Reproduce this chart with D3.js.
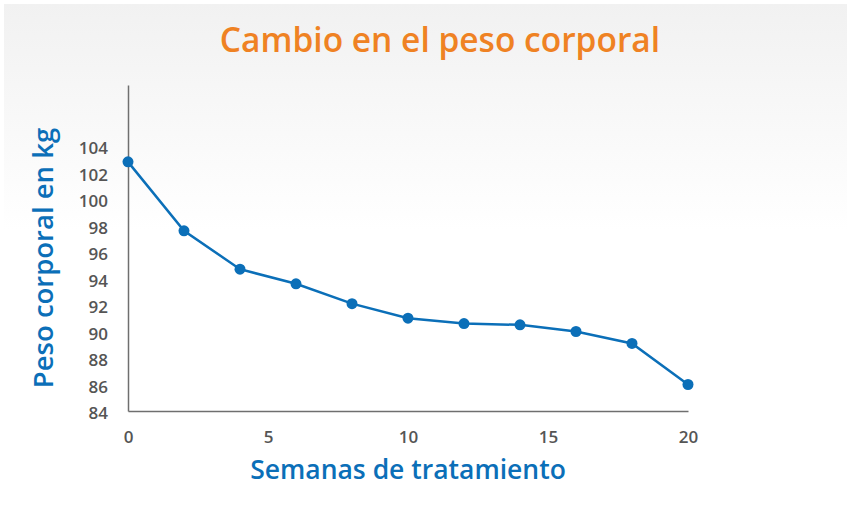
<!DOCTYPE html>
<html><head><meta charset="utf-8">
<script src="https://cdn.jsdelivr.net/npm/d3@7"></script>
<style>html,body{margin:0;padding:0;background:#fff;}svg{display:block;}</style>
</head><body>
<svg id="chart" width="847" height="505"></svg>
<script>
const weeks = [0, 2, 4, 6, 8, 10, 12, 14, 16, 18, 20];
const weights = [102.8, 97.6, 94.7, 93.6, 92.1, 91.0, 90.6, 90.5, 90.0, 89.1, 86.0];
const yTicks = [84, 86, 88, 90, 92, 94, 96, 98, 100, 102, 104];
const xTicks = [0, 5, 10, 15, 20];
const title = "Cambio en el peso corporal";
const xTitle = "Semanas de tratamiento";
const yTitle = "Peso corporal en kg";

const W = 847, H = 505;
const svg = d3.select("#chart");
const defs = svg.append("defs");
const grad = defs.append("linearGradient").attr("id","bg").attr("x1",0).attr("y1",0).attr("x2",0).attr("y2",1);
grad.append("stop").attr("offset","0%").attr("stop-color","#f1f1f1");
grad.append("stop").attr("offset","45%").attr("stop-color","#ffffff");
svg.append("rect").attr("x",4).attr("y",4).attr("width",W-4).attr("height",H-4).attr("fill","url(#bg)");

const x = d3.scaleLinear().domain([0,20]).range([128,688]);
const y = d3.scaleLinear().domain([84,108.6]).range([411,85]);

const font = "'Open Sans', sans-serif";
const blue = "#0b6fb8";

svg.append("text").attr("x",440).attr("y",52).attr("text-anchor","middle")
  .attr("font-family",font).attr("font-weight",600).attr("font-size",33.5)
  .attr("fill","#ef8223").text(title);

const xAxis = svg.append("g").attr("transform","translate(0,411)")
  .call(d3.axisBottom(x).tickValues(xTicks).tickSize(0).tickPadding(20).tickFormat(d3.format("d")));
const yAxis = svg.append("g").attr("transform","translate(128,0)")
  .call(d3.axisLeft(y).tickValues(yTicks).tickSize(0).tickPadding(20).tickFormat(d3.format("d")));
[xAxis,yAxis].forEach(g=>{
  g.select(".domain").attr("stroke","#6f6f6f").attr("stroke-width",1.5);
  g.selectAll("text").attr("font-family",font).attr("font-weight",600).attr("font-size",17).attr("fill","#555");
});
yAxis.selectAll("text").attr("dy","0.45em");

svg.append("text").attr("x",408).attr("y",479).attr("text-anchor","middle")
  .attr("font-family",font).attr("font-weight",600).attr("font-size",26.5)
  .attr("fill",blue).text(xTitle);
svg.append("text").attr("transform","translate(53,258) rotate(-90)").attr("text-anchor","middle")
  .attr("font-family",font).attr("font-weight",600).attr("font-size",27.5)
  .attr("fill",blue).text(yTitle);

const data = weeks.map((w,i)=>({w, v: weights[i]}));
svg.append("path").datum(data)
  .attr("fill","none").attr("stroke",blue).attr("stroke-width",2.5)
  .attr("d", d3.line().x(d=>x(d.w)).y(d=>y(d.v)));
svg.selectAll("circle.pt").data(data).join("circle").attr("class","pt")
  .attr("cx",d=>x(d.w)).attr("cy",d=>y(d.v)).attr("r",5.5).attr("fill",blue);
</script>
</body></html>
